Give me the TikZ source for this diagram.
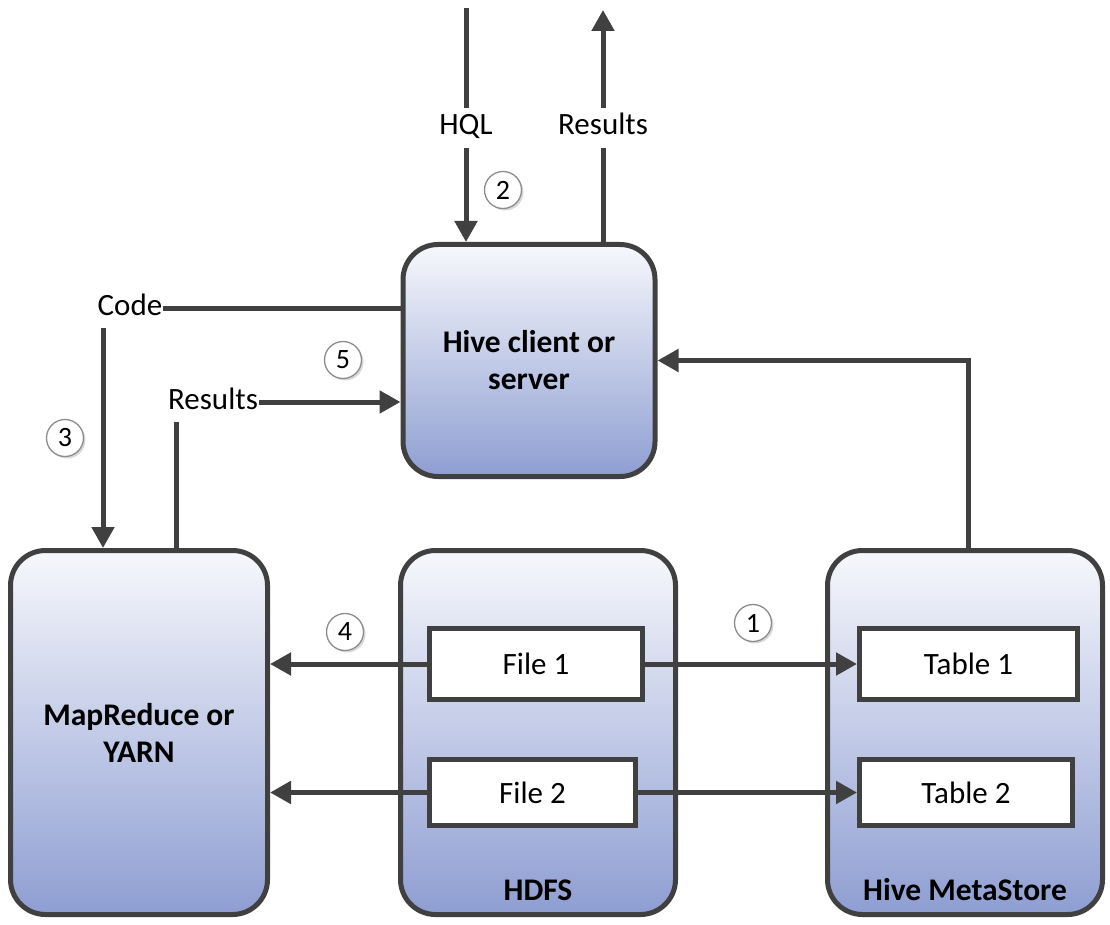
\documentclass[tikz,border=0pt]{standalone}
\usepackage{fontspec}
\setmainfont{Carlito}
\usetikzlibrary{arrows.meta,shadows}
\definecolor{ln}{HTML}{404040}
\definecolor{topc}{HTML}{F7F8FC}
\definecolor{botc}{HTML}{8E9ED2}
\tikzset{
  box/.style={draw=ln, line width=5pt, rounded corners=35pt, top color=topc, bottom color=botc, inner sep=0pt, align=center, font=\fontsize{31.5}{37}\selectfont\bfseries},
  item/.style={draw=ln, line width=5pt, fill=white, inner sep=0pt},
  lbl/.style={inner xsep=1pt, inner ysep=5pt, text height=22pt, text depth=8pt},
  blbl/.style={inner sep=0pt, font=\fontsize{31.5}{37}\selectfont\bfseries},
  num/.style={circle, draw=black!45, line width=1.3pt, fill=white, minimum size=37pt, inner sep=0pt,
    font=\fontsize{28}{28}\selectfont,
    drop shadow={shadow xshift=2pt, shadow yshift=-2pt, fill=black!30, opacity=0.5}},
  conn/.style={draw=ln, line width=5pt},
  arr/.style={conn, -{Triangle[length=21pt,width=22pt]}}
}
\begin{document}
\begin{tikzpicture}[x=1pt, y=-1pt, font=\fontsize{31}{37}\selectfont]
\useasboundingbox (0,0) rectangle (1110,925);
% main boxes
\node[box, minimum width=252pt, minimum height=232pt] (hive) at (529,360.5) {Hive client or\\server};
\node[box, minimum width=257pt, minimum height=364pt] (mr) at (139,732.5) {MapReduce or\\YARN};
\node[box, minimum width=275pt, minimum height=364pt] (hdfs) at (538,732.5) {};
\node[box, minimum width=275pt, minimum height=364pt] (meta) at (965,732.5) {};
\node[blbl] (hdfslbl) at (538,890) {HDFS};
\node[blbl] (metalbl) at (965,890) {Hive MetaStore};
% items
\node[item, minimum width=213pt, minimum height=71pt] (f1) at (536,664) {File 1};
\node[item, minimum width=206pt, minimum height=66pt] (f2) at (532.5,792.5) {File 2};
\node[item, minimum width=218pt, minimum height=71pt] (t1) at (968.5,664) {Table 1};
\node[item, minimum width=213pt, minimum height=66pt] (t2) at (966,792.5) {Table 2};
% top inputs/outputs
\coordinate (hqltop) at (466,8);
\coordinate (restop) at (603,10);
\node[lbl] (hql) at (466,128) {HQL};
\node[lbl] (res1) at (603,128) {Results};
\draw[conn] (hqltop) -- (hql.north);
\draw[arr] (hql.south) -- (hql.south |- hive.north);
\draw[arr] (res1.north) -- (restop);
\draw[conn] (hive.north -| res1) -- (res1.south);
% code
\node[lbl] (code) at (130,308) {Code};
\draw[conn] (code.east) -- (code.east -| hive.west);
\draw[arr] ([xshift=-27pt]code.south) -- ([xshift=-27pt]code.south |- mr.north);
% results from MR
\node[lbl] (res2) at (213,402) {Results};
\draw[arr] (res2.east) -- (res2.east -| hive.west);
\draw[conn] ([xshift=-37pt]res2.south |- mr.north) -- ([xshift=-37pt]res2.south);
% metastore to hive
\draw[arr] ([xshift=3pt]meta.north) |- (hive.east);
% files
\draw[arr] (f1.east) -- (t1.west);
\draw[arr] (f2.east) -- (t2.west);
\draw[arr] (f1.west) -- (f1.west -| mr.east);
\draw[arr] (f2.west) -- (f2.west -| mr.east);
% numbers
\node[num] (n1) at (753,623) {1};
\node[num] (n2) at (503,190) {2};
\node[num] (n3) at (65,438) {3};
\node[num] (n4) at (345,632) {4};
\node[num] (n5) at (343,360) {5};
\end{tikzpicture}
\end{document}
